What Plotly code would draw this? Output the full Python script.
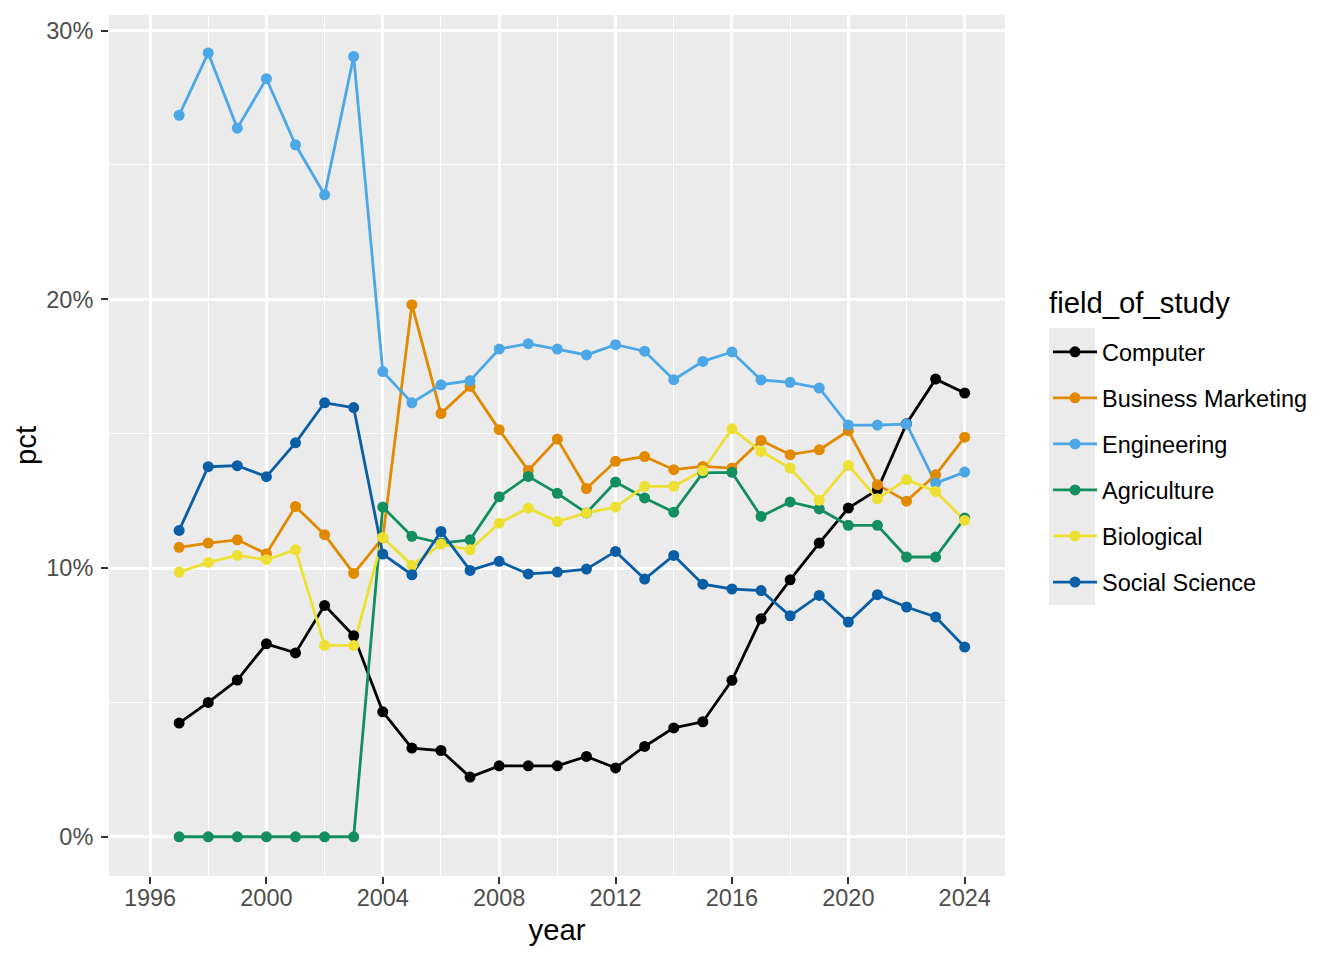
import plotly.graph_objects as go

years = list(range(1997, 2025))

fields = ["Computer", "Business Marketing", "Engineering", "Agriculture", "Biological", "Social Science"]

computer = [4.23, 5.00, 5.83, 7.18, 6.84, 8.61, 7.48, 4.65, 3.30, 3.21, 2.22, 2.64, 2.64, 2.64,
            2.99, 2.56, 3.36, 4.05, 4.28, 5.82, 8.11, 9.56, 10.93, 12.23, 12.91, 15.37, 17.03, 16.51]
business = [10.77, 10.93, 11.05, 10.53, 12.29, 11.24, 9.80, 11.12, 19.80, 15.75, 16.76, 15.15, 13.63, 14.80,
            12.96, 13.97, 14.15, 13.66, 13.78, 13.72, 14.75, 14.22, 14.40, 15.11, 13.10, 12.49, 13.47, 14.87]
engineering = [26.85, 29.17, 26.37, 28.21, 25.75, 23.89, 29.04, 17.31, 16.15, 16.82, 16.97, 18.15, 18.35, 18.15,
               17.93, 18.31, 18.07, 17.01, 17.69, 18.04, 17.00, 16.91, 16.70, 15.32, 15.32, 15.36, 13.16, 13.57]
agriculture = [0, 0, 0, 0, 0, 0, 0, 12.27, 11.18, 10.93, 11.05, 12.65, 13.41, 12.78,
               12.05, 13.20, 12.61, 12.08, 13.54, 13.56, 11.92, 12.46, 12.20, 11.59, 11.59, 10.41, 10.41, 11.86]
biological = [9.85, 10.21, 10.47, 10.31, 10.68, 7.12, 7.12, 11.14, 10.10, 10.89, 10.68, 11.67, 12.23, 11.73,
              12.05, 12.27, 13.04, 13.04, 13.63, 15.18, 14.34, 13.72, 12.52, 13.82, 12.58, 13.29, 12.85, 11.77]
social = [11.40, 13.77, 13.81, 13.40, 14.66, 16.15, 15.97, 10.52, 9.75, 11.36, 9.91, 10.25, 9.78, 9.85,
          9.96, 10.62, 9.59, 10.47, 9.40, 9.22, 9.16, 8.22, 8.98, 7.99, 9.01, 8.55, 8.18, 7.06]

series = [computer, business, engineering, agriculture, biological, social]
colors = ["#000000", "#E18A00", "#4BA7E6", "#138E5E", "#EDE032", "#0A5EA5"]

x_ticks = [1996, 2000, 2004, 2008, 2012, 2016, 2020, 2024]
x_minor = [1998, 2002, 2006, 2010, 2014, 2018, 2022]
y_ticks = [0, 10, 20, 30]
y_labels = ["0%", "10%", "20%", "30%"]
y_minor = [5, 15, 25]

FONT = "Liberation Sans, Arial, Helvetica, sans-serif"
LW = 2.8
MS = 11

fig = go.Figure()

# lines layer
for name, vals, col in zip(fields, series, colors):
    fig.add_trace(go.Scatter(x=years, y=vals, mode="lines", name=name,
                             line=dict(color=col, width=LW), showlegend=False,
                             hoverinfo="skip"))
# points layer (drawn above all lines)
for name, vals, col in zip(fields, series, colors):
    fig.add_trace(go.Scatter(x=years, y=vals, mode="markers", name=name,
                             marker=dict(color=col, size=MS, line=dict(width=0)),
                             showlegend=False))
# legend entries
for name, col in zip(fields, colors):
    fig.add_trace(go.Scatter(x=[None], y=[None], mode="lines+markers", name=name,
                             line=dict(color=col, width=LW),
                             marker=dict(color=col, size=MS, line=dict(width=0)),
                             showlegend=True, legendgroup=name))

# figure sized to the page area inside the default 8px body margin
W, H = 1328, 944
ML, MR, MT, MB = 101, 331, 7, 76
pw = W - ML - MR
ph = H - MT - MB


def px(xf):
    return (xf - ML) / pw


def py(yf):
    return (H - MB - yf) / ph


# legend key background
fig.add_shape(type="rect", xref="paper", yref="paper",
              x0=px(1041), x1=px(1087), y0=py(597), y1=py(320),
              fillcolor="#EBEBEB", line=dict(width=0), layer="below")

fig.add_annotation(text="field_of_study", xref="paper", yref="paper",
                   x=px(1039), y=py(294), xanchor="left", yanchor="middle",
                   showarrow=False, font=dict(size=29.3, color="black", family=FONT))

fig.update_layout(
    width=W, height=H,
    margin=dict(l=ML, r=MR, t=MT, b=MB),
    paper_bgcolor="white", plot_bgcolor="#EBEBEB",
    font=dict(family=FONT, size=23.5, color="black"),
    showlegend=True,
    legend=dict(
        x=px(1040), y=py(322), xanchor="left", yanchor="top",
        bgcolor="rgba(0,0,0,0)", borderwidth=0,
        font=dict(size=23.5, color="black"),
        itemwidth=44, tracegroupgap=12.5,
    ),
    xaxis=dict(
        range=[1994.59, 2025.385], tickvals=x_ticks, ticktext=[str(t) for t in x_ticks],
        showgrid=True, gridcolor="white", gridwidth=2.6,
        minor=dict(tickvals=x_minor, showgrid=True, gridcolor="white", gridwidth=1.3),
        zeroline=False, showline=False,
        ticks="outside", ticklen=7, tickwidth=2, tickcolor="#333333",
        ticklabelstandoff=-6,
        tickfont=dict(size=23.5, color="#4D4D4D"),
        title=dict(text="year", font=dict(size=29.3, color="black"), standoff=9),
    ),
    yaxis=dict(
        range=[-1.46, 30.58], tickvals=y_ticks, ticktext=y_labels,
        showgrid=True, gridcolor="white", gridwidth=2.6,
        minor=dict(tickvals=y_minor, showgrid=True, gridcolor="white", gridwidth=1.3),
        zeroline=False, showline=False,
        ticks="outside", ticklen=7, tickwidth=2, tickcolor="#333333",
        ticklabelstandoff=3,
        tickfont=dict(size=23.5, color="#4D4D4D"),
        title=dict(text="pct", font=dict(size=29.3, color="black"), standoff=0),
    ),
)

fig.write_html("out.html")
